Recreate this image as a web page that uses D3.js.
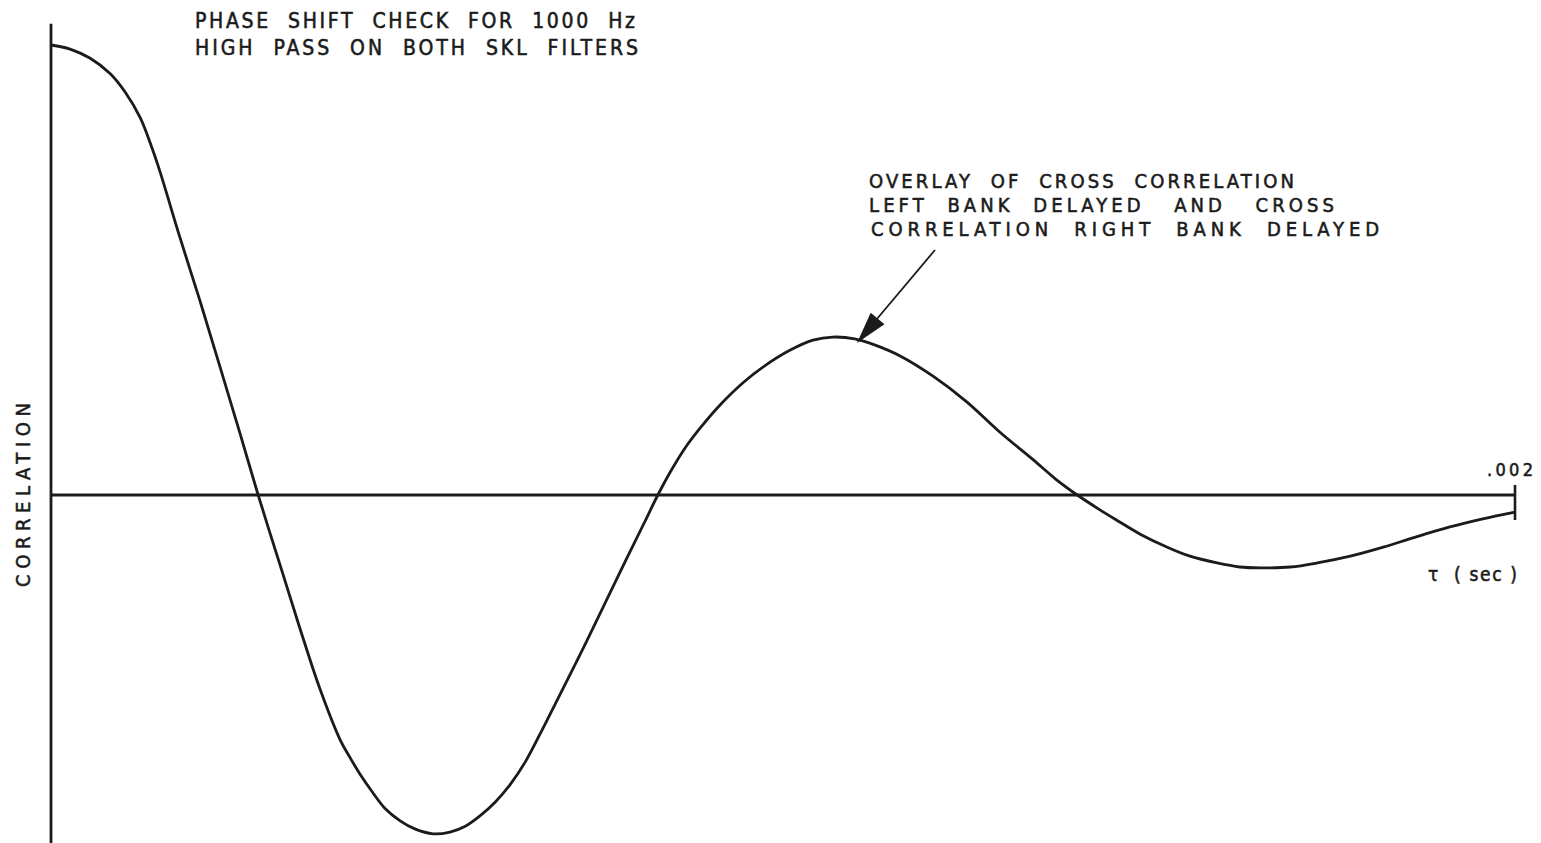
<!DOCTYPE html>
<html>
<head>
<meta charset="utf-8">
<script src="https://cdn.jsdelivr.net/npm/d3@7"></script>
<style>
  html, body { margin: 0; padding: 0; background: #fff; }
  svg { display: block; }
  text { font-family: "DejaVu Sans Condensed", "Liberation Sans Narrow", "DejaVu Sans", sans-serif; fill: #1b1b1b; stroke: #1b1b1b; stroke-width: 0.55; white-space: pre; }
</style>
</head>
<body>
<svg id="chart" width="1541" height="843"></svg>
<script>
// Lag τ in microseconds and normalised correlation of the overlaid curves
const tauMicro = [0, 26, 53, 81, 101, 122, 138, 149, 176, 204, 231, 258, 283, 313, 340, 367,
  395, 408, 422, 439, 456, 477, 497, 522, 545, 566, 586, 607, 627, 648, 675, 702, 730, 757,
  784, 811, 829, 846, 866, 887, 914, 945, 975, 1010, 1041, 1068, 1098, 1126, 1160, 1205,
  1251, 1296, 1342, 1372, 1402, 1433, 1456, 1488, 1525, 1556, 1593, 1624, 1652, 1693, 1730,
  1775, 1820, 1863, 1911, 1956, 2000];
const corr = [1.000, 0.991, 0.971, 0.936, 0.896, 0.838, 0.771, 0.718, 0.573, 0.429, 0.284,
  0.138, 0.000, -0.156, -0.296, -0.429, -0.544, -0.582, -0.620, -0.660, -0.696, -0.724,
  -0.742, -0.753, -0.749, -0.736, -0.713, -0.682, -0.644, -0.593, -0.509, -0.422, -0.331,
  -0.240, -0.149, -0.060, 0.000, 0.051, 0.104, 0.149, 0.200, 0.249, 0.287, 0.322, 0.344,
  0.351, 0.347, 0.333, 0.309, 0.264, 0.207, 0.140, 0.078, 0.036, 0.000, -0.033, -0.056,
  -0.087, -0.116, -0.136, -0.151, -0.160, -0.162, -0.160, -0.151, -0.136, -0.116, -0.094,
  -0.071, -0.053, -0.038];

const tickValues = [0.002];
const tickLabels = [".002"];

const titleLines = ["PHASE  SHIFT  CHECK  FOR  1000  Hz", "HIGH  PASS  ON  BOTH  SKL  FILTERS"];
const noteLines = ["OVERLAY  OF  CROSS  CORRELATION", "LEFT  BANK  DELAYED   AND   CROSS",
  "CORRELATION  RIGHT  BANK  DELAYED"];
const yLabel = "CORRELATION";
const xLabel = "τ  ( sec )";

const ink = "#1b1b1b";
const svg = d3.select("#chart");

const x = d3.scaleLinear().domain([0, 0.002]).range([51, 1515]);
const y = d3.scaleLinear().domain([0, 1]).range([495, 45]);

const points = tauMicro.map((t, i) => ({ t: t * 1e-6, c: corr[i] }));

// Vertical (correlation) axis
svg.append("line")
  .attr("x1", x(0)).attr("x2", x(0))
  .attr("y1", y(1.047)).attr("y2", y(-0.8))
  .attr("stroke", ink).attr("stroke-width", 2.8);

// Horizontal (τ) axis at zero correlation
svg.append("line")
  .attr("x1", x(0)).attr("x2", x(0.002))
  .attr("y1", y(0)).attr("y2", y(0))
  .attr("stroke", ink).attr("stroke-width", 2.8);

// End tick and its label
const ticks = svg.append("g");
ticks.selectAll("line").data(tickValues).join("line")
  .attr("x1", d => x(d)).attr("x2", d => x(d))
  .attr("y1", y(0) - 10).attr("y2", y(0) + 25)
  .attr("stroke", ink).attr("stroke-width", 2.6);
ticks.selectAll("text").data(tickValues).join("text")
  .attr("x", d => x(d) - 5).attr("y", 476)
  .attr("text-anchor", "middle")
  .attr("font-size", 18)
  .attr("textLength", 46).attr("lengthAdjust", "spacing")
  .text((d, i) => tickLabels[i]);

// Correlation curve
const line = d3.line()
  .x(d => x(d.t)).y(d => y(d.c))
  .curve(d3.curveCatmullRom.alpha(0.5));
svg.append("path")
  .datum(points)
  .attr("d", line)
  .attr("fill", "none")
  .attr("stroke", ink)
  .attr("stroke-width", 2.8)
  .attr("stroke-linejoin", "round");

// Axis titles
svg.append("text")
  .attr("transform", `translate(30,${y(0)}) rotate(-90)`)
  .attr("text-anchor", "middle")
  .attr("font-size", 20)
  .attr("textLength", 184).attr("lengthAdjust", "spacing")
  .text(yLabel);

svg.append("text")
  .attr("x", 1428).attr("y", 581)
  .attr("font-size", 19)
  .attr("textLength", 89).attr("lengthAdjust", "spacing")
  .text(xLabel);

// Chart title
const titleWidths = [440, 443];
svg.selectAll("text.title").data(titleLines).join("text")
  .attr("class", "title")
  .attr("x", 195).attr("y", (d, i) => 28 + i * 27)
  .attr("font-size", 21)
  .attr("textLength", (d, i) => titleWidths[i]).attr("lengthAdjust", "spacing")
  .text(d => d);

// Annotation and pointer to the peak
const noteX = [869, 869, 871];
const noteWidths = [425, 465, 508];
svg.selectAll("text.note").data(noteLines).join("text")
  .attr("class", "note")
  .attr("x", (d, i) => noteX[i]).attr("y", (d, i) => 188 + i * 24)
  .attr("font-size", 20)
  .attr("textLength", (d, i) => noteWidths[i]).attr("lengthAdjust", "spacing")
  .text(d => d);

const arrowFrom = [935, 250];
const arrowTo = [857, 343];
svg.append("line")
  .attr("x1", arrowFrom[0]).attr("y1", arrowFrom[1])
  .attr("x2", arrowTo[0] + 14).attr("y2", arrowTo[1] - 17)
  .attr("stroke", ink).attr("stroke-width", 1.8);
{
  const dx = arrowTo[0] - arrowFrom[0], dy = arrowTo[1] - arrowFrom[1];
  const len = Math.hypot(dx, dy), ux = dx / len, uy = dy / len;
  const hl = 32, hw = 9;
  const bx = arrowTo[0] - ux * hl, by = arrowTo[1] - uy * hl;
  svg.append("path")
    .attr("d", `M${arrowTo[0]},${arrowTo[1]} L${bx - uy * hw},${by + ux * hw} L${bx + uy * hw},${by - ux * hw} Z`)
    .attr("fill", ink);
}
</script>
</body>
</html>
